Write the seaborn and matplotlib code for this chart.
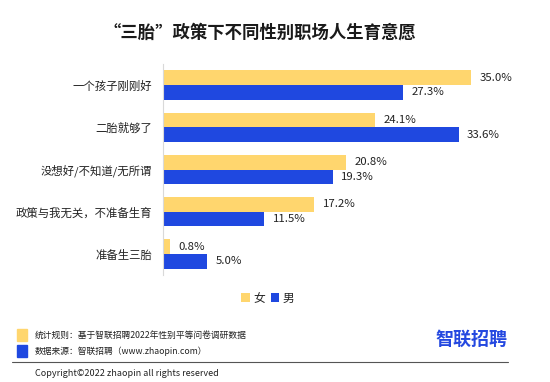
import pandas as pd
import matplotlib.pyplot as plt
import matplotlib.patches as mpatches
from matplotlib.lines import Line2D
import seaborn as sns

sns.set_theme(style="white")
plt.rcParams['font.family'] = ['Noto Sans CJK SC', 'DejaVu Sans']

# Data
categories = ['一个孩子刚刚好', '二胎就够了', '没想好/不知道/无所谓', '政策与我无关，不准备生育', '准备生三胎']
female = [35.0, 24.1, 20.8, 17.2, 0.8]
male = [27.3, 33.6, 19.3, 11.5, 5.0]
genders = ['女', '男']
colors = ['#FFD66E', '#1F48E0']

df = pd.DataFrame({
    '选项': categories * 2,
    '比例': female + male,
    '性别': [genders[0]] * len(categories) + [genders[1]] * len(categories),
})

fig = plt.figure(figsize=(5.5, 3.82), dpi=100)
ax = fig.add_axes([163 / 550, 1 - 275 / 382, 352 / 550, 211 / 382])

sns.barplot(data=df, y='选项', x='比例', hue='性别', palette=colors,
            orient='h', width=0.7, saturation=1, linewidth=0, ax=ax, errorbar=None)

for cont in ax.containers:
    ax.bar_label(cont, fmt='%.1f%%', padding=6, fontsize=8.2, color='#222222')

ax.set_xlim(0, 40)
ax.set_ylim(4.5, -0.5)
ax.set_xlabel('')
ax.set_ylabel('')
ax.set_xticks([])
ax.tick_params(axis='y', length=0, pad=8, labelsize=8.2, labelcolor='#222222')
for side in ['top', 'right', 'bottom']:
    ax.spines[side].set_visible(False)
ax.spines['left'].set_color('#D9D9D9')
ax.spines['left'].set_linewidth(0.8)

sns.move_legend(ax, 'center', bbox_to_anchor=(268 / 550, 1 - 298 / 382),
                bbox_transform=fig.transFigure, ncol=2, frameon=False, title=None,
                handlelength=0.7, handleheight=0.7, handletextpad=0.3,
                columnspacing=0.5, fontsize=8.5)

# Title
fig.text(260 / 550, 1 - 33 / 382, '“三胎”政策下不同性别职场人生育意愿',
         ha='center', va='center', fontsize=12.5, fontweight='bold', color='#1a1a1a')

# Footer notes
fig.patches.append(mpatches.Rectangle((17 / 550, 1 - 341 / 382), 10 / 550, 12 / 382,
                                      transform=fig.transFigure, color=colors[0]))
fig.patches.append(mpatches.Rectangle((17 / 550, 1 - 357 / 382), 10 / 550, 12 / 382,
                                      transform=fig.transFigure, color=colors[1]))
fig.text(35 / 550, 1 - 335 / 382, '统计规则：基于智联招聘2022年性别平等问卷调研数据',
         ha='left', va='center', fontsize=6.3, color='#222222')
fig.text(35 / 550, 1 - 351 / 382, '数据来源：智联招聘（www.zhaopin.com）',
         ha='left', va='center', fontsize=6.3, color='#222222')
fig.text(471 / 550, 1 - 339 / 382, '智联招聘', ha='center', va='center',
         fontsize=13, fontweight='bold', color='#2448E0')
fig.add_artist(Line2D([12 / 550, 508 / 550], [1 - 362 / 382, 1 - 362 / 382],
                      transform=fig.transFigure, color='#555555', linewidth=0.8))
fig.text(35 / 550, 1 - 373 / 382, 'Copyright©2022 zhaopin all rights reserved',
         ha='left', va='center', fontsize=6.5, color='#222222')

fig.savefig('out.png', dpi=100)
